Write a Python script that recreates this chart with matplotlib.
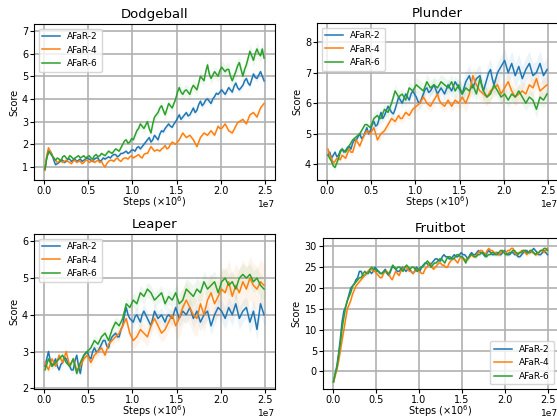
import numpy as np
import matplotlib
matplotlib.use("Agg")
import matplotlib.pyplot as plt

labels = ["AFaR-2", "AFaR-4", "AFaR-6"]
colors = ["#1f77b4", "#ff7f0e", "#2ca02c"]

dodge_2 = [0.9, 1.4, 1.65, 1.7, 1.55, 1.3, 1.1, 1.15, 1.2, 1.3, 1.3, 1.2, 1.25, 1.35, 1.35, 1.25, 1.3, 1.35, 1.25, 1.3,
           1.35, 1.25, 1.3, 1.35, 1.4, 1.35, 1.3, 1.25, 1.35, 1.4, 1.4, 1.25, 1.3, 1.4, 1.35, 1.4, 1.45, 1.4, 1.5, 1.55,
           1.55, 1.45, 1.5, 1.6, 1.6, 1.65, 1.7, 1.6, 1.65, 1.75, 1.75, 1.7, 1.85, 1.9, 1.8, 1.9, 2.0, 2.1, 2.2, 2.3,
           2.1, 2.2, 2.4, 2.3, 2.2, 2.45, 2.6, 2.55, 2.7, 2.8, 2.9, 2.8, 2.75, 2.9, 3.0, 3.15, 3.3, 3.1, 3.2, 3.3,
           3.4, 3.25, 3.3, 3.45, 3.6, 3.4, 3.5, 3.75, 3.9, 3.7, 3.8, 3.95, 4.0, 3.9, 3.8, 4.0, 4.1, 4.25, 4.2, 4.3,
           4.4, 4.3, 4.2, 4.35, 4.5, 4.4, 4.3, 4.55, 4.7, 4.5, 4.4, 4.5, 4.6, 4.8, 4.9, 4.7, 4.6, 4.85, 5.1, 4.95,
           4.9, 5.05, 5.2, 5.0, 4.8]
dodge_4 = [0.85, 1.5, 1.85, 1.7, 1.5, 1.4, 1.3, 1.2, 1.25, 1.3, 1.2, 1.25, 1.3, 1.25, 1.2, 1.15, 1.25, 1.3, 1.2, 1.25,
           1.25, 1.15, 1.2, 1.3, 1.3, 1.2, 1.25, 1.3, 1.2, 1.25, 1.3, 1.2, 1.25, 1.1, 1.0, 1.15, 1.25, 1.3, 1.3, 1.25,
           1.35, 1.4, 1.3, 1.25, 1.35, 1.4, 1.4, 1.35, 1.45, 1.5, 1.4, 1.45, 1.5, 1.55, 1.45, 1.4, 1.55, 1.6, 1.6, 1.75,
           1.9, 1.8, 1.7, 1.75, 1.75, 1.7, 1.8, 1.85, 1.95, 1.8, 1.85, 2.0, 2.1, 2.05, 2.0, 2.1, 2.2, 2.35, 2.5, 2.4,
           2.3, 2.35, 2.4, 2.3, 2.2, 2.05, 1.9, 2.1, 2.3, 2.4, 2.5, 2.45, 2.4, 2.5, 2.6, 2.5, 2.4, 2.6, 2.8, 2.7,
           2.7, 2.8, 2.9, 2.75, 2.6, 2.55, 2.5, 2.65, 2.8, 2.95, 3.0, 3.05, 3.1, 3.0, 2.9, 3.1, 3.3, 3.35, 3.4, 3.3,
           3.2, 3.4, 3.6, 3.7, 3.8]
dodge_6 = [0.9, 1.4, 1.7, 1.6, 1.5, 1.4, 1.3, 1.4, 1.35, 1.25, 1.45, 1.5, 1.4, 1.35, 1.5, 1.45, 1.35, 1.4, 1.45, 1.5,
           1.4, 1.45, 1.5, 1.4, 1.45, 1.5, 1.4, 1.35, 1.5, 1.55, 1.45, 1.5, 1.6, 1.55, 1.5, 1.6, 1.7, 1.65, 1.6, 1.7,
           1.8, 1.75, 1.7, 1.85, 2.0, 2.15, 2.2, 2.05, 2.1, 2.25, 2.2, 2.4, 2.6, 2.7, 2.9, 2.8, 2.7, 2.85, 3.0, 2.7,
           2.5, 2.9, 3.2, 3.3, 3.4, 3.6, 3.7, 3.5, 3.3, 3.55, 3.8, 3.7, 3.6, 3.8, 4.0, 4.3, 4.5, 4.3, 4.2, 4.35,
           4.4, 4.3, 4.2, 4.45, 4.6, 4.5, 4.4, 4.7, 5.0, 4.9, 4.8, 5.2, 5.5, 5.1, 4.9, 5.05, 5.2, 5.1, 5.0, 5.25,
           5.4, 5.3, 5.2, 5.3, 5.3, 5.0, 4.8, 5.0, 5.2, 5.45, 5.6, 5.3, 5.0, 5.3, 5.5, 5.8, 6.1, 5.9, 5.7, 6.0,
           6.2, 6.0, 5.9, 6.2, 5.8]

plunder_2 = [4.3, 4.4, 4.2, 4.3, 4.4, 4.25, 4.3, 4.45, 4.5, 4.4, 4.45, 4.55, 4.6, 4.5, 4.7, 4.8, 4.8, 4.9, 5.0, 4.85,
             4.9, 5.05, 5.2, 5.0, 5.1, 5.3, 5.4, 5.25, 5.3, 5.5, 5.7, 5.5, 5.6, 5.75, 5.9, 5.8, 5.7, 5.65, 5.8, 6.0,
             6.2, 6.1, 6.0, 6.15, 6.3, 6.2, 6.1, 6.3, 6.4, 6.3, 6.2, 6.05, 6.0, 6.15, 6.3, 6.45, 6.5, 6.35, 6.4, 6.5,
             6.6, 6.45, 6.3, 6.4, 6.5, 6.4, 6.3, 6.45, 6.6, 6.5, 6.4, 6.55, 6.7, 6.6, 6.5, 6.4, 6.3, 6.5, 6.7, 6.8,
             6.9, 6.7, 6.5, 6.65, 6.8, 6.85, 6.9, 6.6, 6.4, 6.6, 6.8, 7.0, 7.1, 6.8, 6.6, 6.8, 7.0, 7.1, 7.2, 7.3,
             7.4, 7.2, 7.0, 7.15, 7.3, 7.1, 6.9, 7.05, 7.2, 7.0, 6.8, 6.95, 7.1, 7.2, 7.3, 7.1, 6.9, 6.95, 7.0, 7.15,
             7.3, 7.1, 6.9, 7.0, 7.1]
plunder_4 = [4.5, 4.3, 4.2, 4.05, 4.1, 4.2, 4.2, 4.15, 4.3, 4.25, 4.2, 4.35, 4.5, 4.4, 4.4, 4.6, 4.8, 4.7, 4.6, 4.75,
             4.9, 5.0, 5.1, 5.05, 5.0, 5.1, 5.2, 5.0, 4.8, 4.9, 5.0, 5.05, 5.1, 5.2, 5.3, 5.4, 5.5, 5.45, 5.4, 5.5,
             5.6, 5.5, 5.5, 5.6, 5.7, 5.65, 5.6, 5.7, 5.8, 5.85, 5.9, 5.95, 6.0, 6.1, 6.2, 6.1, 6.0, 5.95, 5.9, 6.0,
             6.1, 6.2, 6.3, 6.1, 6.0, 5.95, 5.9, 6.0, 6.1, 6.0, 5.9, 6.0, 6.1, 6.05, 6.0, 6.1, 6.2, 6.1, 6.0, 6.15,
             6.3, 6.6, 6.9, 6.75, 6.6, 6.5, 6.4, 6.35, 6.3, 6.25, 6.2, 6.3, 6.4, 6.45, 6.5, 6.55, 6.6, 6.45, 6.3, 6.4,
             6.5, 6.6, 6.7, 6.55, 6.4, 6.3, 6.2, 6.25, 6.3, 6.35, 6.4, 6.35, 6.3, 6.45, 6.6, 6.55, 6.5, 6.65, 6.8, 6.6,
             6.4, 6.45, 6.5, 6.55, 6.6]
plunder_6 = [4.3, 4.2, 4.1, 3.95, 3.9, 4.05, 4.2, 4.4, 4.5, 4.45, 4.4, 4.5, 4.6, 4.7, 4.8, 4.85, 4.9, 4.95, 5.0, 5.1,
             5.2, 5.3, 5.3, 5.25, 5.2, 5.35, 5.5, 5.55, 5.6, 5.5, 5.5, 5.65, 5.8, 5.75, 5.7, 5.85, 6.0, 6.2, 6.4, 6.3,
             6.2, 6.25, 6.3, 6.2, 6.1, 6.3, 6.5, 6.45, 6.4, 6.5, 6.6, 6.55, 6.5, 6.45, 6.4, 6.55, 6.7, 6.6, 6.5, 6.55,
             6.6, 6.55, 6.5, 6.6, 6.7, 6.65, 6.6, 6.55, 6.5, 6.6, 6.7, 6.55, 6.4, 6.5, 6.6, 6.45, 6.3, 6.4, 6.5, 6.45,
             6.4, 6.5, 6.6, 6.45, 6.3, 6.55, 6.8, 6.6, 6.4, 6.3, 6.2, 6.25, 6.3, 6.45, 6.6, 6.5, 6.4, 6.3, 6.2, 6.25,
             6.3, 6.2, 6.1, 6.2, 6.3, 6.25, 6.2, 6.3, 6.4, 6.3, 6.2, 6.1, 6.0, 6.1, 6.2, 6.15, 6.1, 5.95, 5.8, 6.0,
             6.2, 6.15, 6.1, 6.2, 6.3]

leaper_2 = [2.6, 2.8, 3.0, 2.75, 2.6, 2.7, 2.8, 2.6, 2.5, 2.65, 2.7, 2.85, 2.8, 2.7, 2.6, 2.5, 2.5, 2.75, 2.9, 2.6,
            2.4, 2.7, 2.9, 2.95, 3.0, 2.85, 2.8, 3.0, 3.1, 3.0, 3.0, 3.1, 3.2, 3.3, 3.3, 3.15, 3.1, 3.3, 3.4, 3.45,
            3.5, 3.4, 3.4, 3.6, 3.7, 4.0, 4.2, 4.0, 3.9, 3.85, 3.8, 3.95, 4.0, 3.9, 3.8, 4.0, 4.1, 4.0, 3.9, 3.8,
            3.7, 3.9, 4.1, 4.0, 3.9, 3.95, 4.0, 3.9, 3.8, 3.95, 4.0, 3.95, 3.9, 4.05, 4.2, 4.05, 3.9, 4.0, 4.1, 4.05,
            4.0, 4.1, 4.2, 4.05, 3.9, 4.0, 4.1, 3.95, 3.8, 3.9, 4.0, 4.05, 4.1, 3.9, 3.7, 3.85, 4.0, 4.1, 4.2, 4.15,
            4.1, 4.0, 3.9, 4.05, 4.2, 4.1, 4.0, 4.15, 4.3, 4.1, 3.9, 4.0, 4.1, 4.15, 4.2, 4.0, 3.8, 3.95, 4.1, 3.85,
            3.6, 3.95, 4.3, 4.15, 4.0]
leaper_4 = [2.7, 2.6, 2.5, 2.65, 2.8, 2.7, 2.6, 2.75, 2.9, 2.8, 2.7, 2.85, 3.0, 2.8, 2.6, 2.7, 2.8, 2.65, 2.5, 2.55,
            2.6, 2.7, 2.8, 2.85, 2.9, 2.8, 2.7, 2.8, 2.9, 2.95, 3.0, 3.05, 3.1, 3.0, 2.9, 3.05, 3.2, 3.25, 3.3, 3.35,
            3.4, 3.45, 3.5, 3.6, 3.7, 3.8, 3.9, 3.7, 3.5, 3.4, 3.3, 3.35, 3.4, 3.5, 3.6, 3.55, 3.5, 3.45, 3.4, 3.55,
            3.7, 3.8, 3.9, 3.8, 3.7, 3.6, 3.5, 3.55, 3.6, 3.7, 3.8, 3.9, 4.0, 3.85, 3.7, 3.8, 3.9, 4.05, 4.2, 4.3,
            4.4, 4.3, 4.2, 4.1, 4.0, 3.95, 3.9, 4.1, 4.3, 4.15, 4.0, 4.2, 4.4, 4.5, 4.6, 4.45, 4.3, 4.4, 4.5, 4.6,
            4.7, 4.65, 4.6, 4.75, 4.9, 4.7, 4.5, 4.65, 4.8, 4.7, 4.6, 4.75, 4.9, 4.8, 4.7, 4.85, 5.0, 4.9, 4.8, 4.75,
            4.7, 4.8, 4.9, 4.85, 4.8]
leaper_6 = [2.5, 2.65, 2.8, 2.7, 2.6, 2.65, 2.7, 2.75, 2.8, 2.85, 2.9, 2.8, 2.7, 2.65, 2.6, 2.7, 2.8, 2.6, 2.4, 2.55,
            2.7, 2.8, 2.9, 2.95, 3.0, 3.05, 3.1, 3.2, 3.3, 3.25, 3.2, 3.3, 3.4, 3.45, 3.5, 3.4, 3.3, 3.45, 3.6, 3.7,
            3.8, 3.75, 3.7, 3.8, 3.9, 4.1, 4.3, 4.25, 4.2, 4.3, 4.4, 4.35, 4.3, 4.45, 4.6, 4.55, 4.5, 4.6, 4.7, 4.65,
            4.6, 4.5, 4.4, 4.45, 4.5, 4.55, 4.6, 4.45, 4.3, 4.4, 4.5, 4.45, 4.4, 4.5, 4.6, 4.45, 4.3, 4.35, 4.4, 4.55,
            4.7, 4.65, 4.6, 4.55, 4.5, 4.6, 4.7, 4.65, 4.6, 4.75, 4.9, 4.8, 4.7, 4.75, 4.8, 4.85, 4.9, 4.75, 4.6, 4.75,
            4.9, 4.95, 5.0, 4.9, 4.8, 4.85, 4.9, 4.8, 4.7, 4.85, 5.0, 5.05, 5.1, 5.05, 5.0, 5.05, 5.1, 5.0, 4.9, 4.95,
            5.0, 4.9, 4.8, 4.75, 4.7]

fruit_2 = [-2.5, -0.5, 1.5, 4.5, 8, 12, 14.5, 15.5, 17, 18.5, 20, 20.5, 21, 22, 22.5, 24, 24, 23, 23, 23.5,
           24, 24, 23.5, 24, 25, 24.5, 24, 23.5, 23.5, 24, 24.5, 23.5, 23, 24, 25, 25, 24.5, 24, 24, 24.5,
           25, 24.5, 24, 24.5, 24.5, 24, 23.5, 24, 25, 24.5, 24, 25, 25.5, 26, 26, 25.5, 25.5, 26, 26.5, 27,
           27, 26.5, 26.5, 27.5, 28, 27.5, 27.5, 27, 27, 27.5, 28, 27.5, 27.5, 28, 28.5, 28, 28, 27.5, 27, 28,
           28.5, 28, 28, 28.5, 29, 28.5, 28.5, 28, 27.5, 28.5, 29, 28.5, 28, 28, 28.5, 28.5, 28, 28, 28.5, 29,
           28.5, 28, 28, 28.5, 28.5, 28, 28, 27.5, 27.5, 28, 28.5, 29, 29, 28.5, 28.5, 29, 29.5, 29, 28.5, 28,
           28, 28.5, 29, 28.5, 28]
fruit_4 = [-2.5, -1, 0.5, 2.5, 5, 7.5, 10, 12.5, 15, 16, 17, 18.5, 19.5, 20.5, 21, 21.5, 22, 22.5, 23, 23.5,
           24, 24.5, 24.5, 24, 24, 23.5, 23, 22.5, 22.5, 23.5, 24, 24, 23.5, 22.5, 22, 23, 24, 23.5, 23, 24,
           24.5, 25, 25, 24.5, 24, 24, 23.5, 24, 24.5, 24, 24, 23.5, 23.5, 24.5, 25, 25.5, 26, 25, 24.5, 25,
           25.5, 26, 26, 25.5, 25.5, 25, 25, 26, 26.5, 27, 27, 26.5, 26, 27, 27.5, 27, 26.5, 27, 27, 27.5,
           28, 27.5, 27.5, 28, 28.5, 29, 29, 28.5, 28, 29, 29.5, 29, 29, 28.5, 28.5, 28, 28, 28.5, 29, 28.5,
           28.5, 29, 29, 29.5, 29.5, 28.5, 28, 28.5, 28.5, 29, 29, 28.5, 28, 28.5, 29, 28.5, 28.5, 28, 28, 28.5,
           29, 29, 28.5, 29, 29.5]
fruit_6 = [-2.5, -0.5, 1, 4, 7, 10.5, 13, 15.5, 17, 18, 19, 20.5, 21, 21.5, 22, 22.5, 22.5, 23.5, 24, 23.5,
           23.5, 24.5, 25, 24.5, 24.5, 24, 24, 23.5, 23.5, 24, 24, 23.5, 23.5, 24.5, 25.5, 25, 24.5, 25, 25, 24.5,
           24, 25, 25.5, 25, 24.5, 25, 25, 24.5, 24, 24.5, 25, 25, 25.5, 26, 26.5, 26, 25, 25.5, 26, 26,
           26.5, 27, 27, 26.5, 26, 27, 27.5, 27.5, 27, 27, 27.5, 28, 28, 27.5, 27.5, 27, 26, 27, 27.5, 28,
           28, 27.5, 27.5, 28, 28, 28.5, 28.5, 28, 27.5, 28, 28, 28.5, 28.5, 28, 28, 28.5, 29, 29, 28.5, 28,
           28, 28.5, 28.5, 29, 29, 28.5, 28, 28.5, 28.5, 29, 29, 28.5, 28.5, 29, 29, 28.5, 28, 28.5, 28.5, 29,
           29, 29.5, 29.5, 29]

# band half-widths (std) per series, one value per fifth of training
dodge_std = [[0.05, 0.08, 0.12, 0.15, 0.15], [0.05, 0.06, 0.08, 0.1, 0.12], [0.05, 0.1, 0.2, 0.25, 0.3]]
plunder_std = [[0.1, 0.15, 0.2, 0.35, 0.4], [0.1, 0.15, 0.2, 0.3, 0.3], [0.1, 0.2, 0.25, 0.25, 0.25]]
leaper_std = [[0.1, 0.1, 0.2, 0.25, 0.3], [0.1, 0.15, 0.25, 0.5, 0.6], [0.1, 0.15, 0.2, 0.3, 0.3]]
fruit_std = [[0.5, 0.5, 0.5, 0.5, 0.5], [0.8, 0.5, 0.5, 0.5, 0.5], [0.5, 0.5, 0.5, 0.5, 0.5]]

panels = [
    ("Dodgeball", [dodge_2, dodge_4, dodge_6], dodge_std, (0.43, 7.3), [1, 2, 3, 4, 5, 6, 7], "upper left"),
    ("Plunder", [plunder_2, plunder_4, plunder_6], plunder_std, (3.49, 8.62), [4, 5, 6, 7, 8], "upper left"),
    ("Leaper", [leaper_2, leaper_4, leaper_6], leaper_std, (1.98, 6.2), [2, 3, 4, 5, 6], "upper left"),
    ("Fruitbot", [fruit_2, fruit_4, fruit_6], fruit_std, (-4.2, 32.0), [0, 5, 10, 15, 20, 25, 30], "lower right"),
]

W, H = 557, 419
fig = plt.figure(figsize=(W / 100, H / 100), dpi=100)

# axes boxes in pixels: left, top, right, bottom
boxes = [(34, 24, 275, 180), (317, 23, 558, 180), (34, 234, 275, 389), (322.8, 238, 558.2, 389)]

for (title, series, stds, ylim, yticks, loc), (l, t, r, b) in zip(panels, boxes):
    ax = fig.add_axes([l / W, 1 - b / H, (r - l) / W, (b - t) / H])
    for y, s, lab, c in zip(series, stds, labels, colors):
        y = np.asarray(y, dtype=float)
        x = np.linspace(1e5, 2.49e7, len(y))
        sd = np.repeat(s, int(np.ceil(len(y) / len(s))))[:len(y)]
        ax.fill_between(x, y - sd, y + sd, color=c, alpha=0.08, linewidth=0)
        ax.plot(x, y, color=c, lw=1.1, label=lab)
    ax.set_ylim(*ylim)
    ax.set_yticks(yticks)
    ax.set_xticks([0, 0.5e7, 1.0e7, 1.5e7, 2.0e7, 2.5e7])
    ax.grid(True, color="#b0b0b0", lw=1.2)
    ax.set_axisbelow(True)
    ax.set_title(title, fontsize=9.5, pad=4)
    ax.set_xlabel(r"Steps ($\times10^6$)", fontsize=7, labelpad=-1)
    ax.set_ylabel("Score", fontsize=7, labelpad=2)
    ax.tick_params(labelsize=7, length=3, width=0.8, pad=1.2)
    ax.xaxis.get_offset_text().set_fontsize(6.5)
    for sp in ax.spines.values():
        sp.set_linewidth(0.8)
    ax.legend(loc=loc, fontsize=6.5, framealpha=0.8, borderpad=0.4, labelspacing=0.5, handlelength=2.0)

fig.savefig("out.png", dpi=100)
